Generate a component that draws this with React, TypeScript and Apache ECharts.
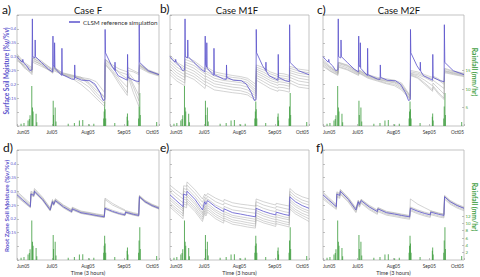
import React, { useEffect, useRef } from "react";
import * as echarts from "echarts";

// ---- axes ----
const MONTH_DAYS = [0, 30, 61, 92, 122];
const MONTH_LABELS = ["Jun05", "Jul05", "Aug05", "Sep05", "Oct05"];
const MOISTURE_LABELS = [0.15, 0.2, 0.25, 0.3, 0.35, 0.4];
const RAIN_LABELS_TOP = [5, 10, 15];
const RAIN_LABELS_BOTTOM = [2, 4, 6, 8, 10, 12];

// ---- rainfall forcing (mm/hr), day since 1 June 2005 ----
const RAIN_DAYS = [3.5, 6, 9.5, 10.6, 11.2, 12.7, 13.3, 13.8, 16.4, 17, 31.1, 31.4, 32.8, 33.5, 44, 49.3, 53.6, 56.5, 62, 66, 74.5, 74.9, 75.3, 75.7, 76.2, 84, 94.6, 94.9, 95.3, 104.5, 104.9, 105.5, 105.9, 120];
const RAIN_MM = [0.6, 0.8, 1.5, 1.9, 2.9, 10.8, 5.0, 3.9, 3.3, 1.0, 6.8, 3.0, 5.0, 1.2, 0.6, 0.8, 1.5, 1.6, 0.5, 0.6, 2.0, 3.9, 6.6, 4.5, 2.0, 0.8, 2.5, 3.4, 1.5, 2.0, 5.3, 8.9, 3.0, 1.1];

// ---- CLSM reference simulation, surface layer ----
const SURF_REF_DAYS = [0, 2, 4.5, 5, 5.5, 8.3, 11, 12.9, 13.2, 13.5, 15.4, 15.6, 15.9, 21, 27, 30.6, 30.9, 31.2, 32.1, 32.3, 32.6, 38.4, 38.6, 38.9, 47, 49.4, 49.6, 49.9, 55.6, 62.7, 67, 71.3, 74, 75.5, 75.7, 76, 81.3, 84, 84.2, 84.5, 87, 92.8, 94.8, 95, 95.3, 101.4, 104.8, 105, 105.4, 112.8, 122];
const SURF_REF = [0.3, 0.29, 0.28, 0.29, 0.278, 0.267, 0.25, 0.252, 0.436, 0.3, 0.295, 0.36, 0.3, 0.279, 0.255, 0.245, 0.374, 0.27, 0.262, 0.35, 0.258, 0.232, 0.33, 0.235, 0.219, 0.218, 0.27, 0.225, 0.215, 0.213, 0.201, 0.171, 0.142, 0.145, 0.398, 0.314, 0.267, 0.25, 0.28, 0.248, 0.231, 0.219, 0.215, 0.308, 0.225, 0.213, 0.21, 0.415, 0.279, 0.249, 0.235];

// ---- ensemble members, surface layer ----
const SURF_ENS_DAYS = [0, 6, 12.9, 13.3, 21, 30.8, 31.3, 39, 47, 55, 62, 68, 75.4, 75.8, 82, 88, 94.8, 95.2, 100, 104.8, 105.2, 113, 122];

const CASE_F_SURF = [
  [0.31, 0.28, 0.26, 0.3, 0.285, 0.25, 0.265, 0.24, 0.232, 0.225, 0.22, 0.21, 0.17, 0.29, 0.27, 0.255, 0.245, 0.26, 0.25, 0.24, 0.27, 0.25, 0.235],
  [0.29, 0.265, 0.245, 0.29, 0.27, 0.24, 0.255, 0.235, 0.228, 0.22, 0.215, 0.19, 0.15, 0.285, 0.26, 0.245, 0.235, 0.25, 0.245, 0.235, 0.265, 0.245, 0.232],
  [0.295, 0.26, 0.24, 0.295, 0.275, 0.25, 0.26, 0.238, 0.23, 0.222, 0.2, 0.17, 0.14, 0.28, 0.25, 0.22, 0.19, 0.24, 0.2, 0.16, 0.27, 0.248, 0.236],
  [0.305, 0.275, 0.255, 0.28, 0.265, 0.245, 0.25, 0.235, 0.225, 0.21, 0.19, 0.16, 0.13, 0.275, 0.24, 0.2, 0.16, 0.23, 0.17, 0.12, 0.26, 0.242, 0.23],
  [0.285, 0.27, 0.25, 0.295, 0.28, 0.255, 0.262, 0.242, 0.234, 0.226, 0.205, 0.18, 0.155, 0.29, 0.265, 0.24, 0.22, 0.245, 0.22, 0.2, 0.275, 0.252, 0.238],
  [0.3, 0.265, 0.235, 0.285, 0.272, 0.242, 0.258, 0.236, 0.222, 0.2, 0.175, 0.15, 0.12, 0.27, 0.245, 0.21, 0.17, 0.235, 0.19, 0.14, 0.268, 0.246, 0.234],
];

const CASE_M1F_SURF = [
  [0.305, 0.28, 0.262, 0.3, 0.285, 0.255, 0.265, 0.245, 0.238, 0.232, 0.228, 0.222, 0.2, 0.27, 0.26, 0.245, 0.235, 0.24, 0.238, 0.232, 0.265, 0.255, 0.25],
  [0.295, 0.272, 0.255, 0.29, 0.278, 0.248, 0.258, 0.238, 0.23, 0.225, 0.222, 0.215, 0.19, 0.262, 0.252, 0.238, 0.228, 0.232, 0.23, 0.226, 0.258, 0.248, 0.242],
  [0.285, 0.262, 0.245, 0.28, 0.268, 0.238, 0.248, 0.23, 0.222, 0.217, 0.214, 0.207, 0.18, 0.255, 0.244, 0.23, 0.22, 0.225, 0.222, 0.218, 0.25, 0.24, 0.235],
  [0.275, 0.252, 0.235, 0.272, 0.258, 0.228, 0.24, 0.222, 0.214, 0.21, 0.206, 0.2, 0.172, 0.248, 0.236, 0.222, 0.212, 0.218, 0.215, 0.21, 0.242, 0.232, 0.226],
  [0.265, 0.242, 0.225, 0.262, 0.248, 0.218, 0.23, 0.212, 0.205, 0.2, 0.197, 0.19, 0.165, 0.24, 0.228, 0.214, 0.205, 0.21, 0.207, 0.202, 0.234, 0.222, 0.216],
  [0.255, 0.232, 0.215, 0.252, 0.238, 0.208, 0.22, 0.202, 0.196, 0.19, 0.187, 0.18, 0.158, 0.232, 0.22, 0.206, 0.196, 0.2, 0.198, 0.193, 0.225, 0.212, 0.206],
  [0.245, 0.222, 0.205, 0.242, 0.228, 0.198, 0.21, 0.192, 0.186, 0.18, 0.177, 0.17, 0.15, 0.224, 0.21, 0.196, 0.186, 0.19, 0.188, 0.183, 0.215, 0.2, 0.195],
  [0.235, 0.212, 0.195, 0.232, 0.218, 0.185, 0.198, 0.18, 0.175, 0.17, 0.167, 0.162, 0.142, 0.215, 0.2, 0.185, 0.175, 0.18, 0.177, 0.172, 0.205, 0.19, 0.185],
];

const CASE_M2F_SURF = [
  [0.29, 0.265, 0.245, 0.28, 0.27, 0.245, 0.252, 0.235, 0.225, 0.22, 0.215, 0.205, 0.16, 0.245, 0.24, 0.23, 0.22, 0.225, 0.215, 0.2, 0.255, 0.245, 0.238],
  [0.28, 0.26, 0.24, 0.275, 0.265, 0.24, 0.248, 0.232, 0.222, 0.215, 0.21, 0.2, 0.155, 0.24, 0.235, 0.225, 0.21, 0.215, 0.2, 0.185, 0.25, 0.242, 0.235],
  [0.275, 0.255, 0.238, 0.27, 0.26, 0.238, 0.245, 0.228, 0.218, 0.21, 0.205, 0.19, 0.15, 0.238, 0.23, 0.215, 0.195, 0.205, 0.185, 0.165, 0.248, 0.24, 0.233],
  [0.27, 0.25, 0.235, 0.265, 0.255, 0.235, 0.242, 0.225, 0.215, 0.205, 0.2, 0.185, 0.148, 0.235, 0.225, 0.205, 0.18, 0.195, 0.17, 0.15, 0.245, 0.238, 0.23],
  [0.265, 0.248, 0.232, 0.262, 0.252, 0.232, 0.24, 0.222, 0.212, 0.202, 0.195, 0.18, 0.145, 0.232, 0.222, 0.2, 0.175, 0.19, 0.165, 0.145, 0.242, 0.235, 0.228],
  [0.285, 0.262, 0.242, 0.278, 0.268, 0.242, 0.25, 0.23, 0.22, 0.212, 0.208, 0.195, 0.158, 0.25, 0.245, 0.235, 0.225, 0.23, 0.22, 0.205, 0.258, 0.248, 0.24],
];

// ---- root zone: reference and ensembles share one time grid ----
const ROOT_DAYS = [0, 5, 11.5, 12, 14.5, 15, 22, 28.5, 30.5, 31.5, 33, 40, 47, 47.5, 55, 62, 68, 75, 75.6, 82, 88, 92.8, 93.2, 100, 104.6, 105.2, 110, 116, 122];
const ROOT_REF = [0.287, 0.268, 0.244, 0.29, 0.285, 0.3, 0.27, 0.232, 0.262, 0.252, 0.266, 0.243, 0.226, 0.236, 0.222, 0.217, 0.212, 0.207, 0.238, 0.227, 0.219, 0.214, 0.224, 0.216, 0.212, 0.28, 0.262, 0.248, 0.238];

const CASE_F_ROOT = [
  [0.295, 0.275, 0.25, 0.295, 0.29, 0.305, 0.275, 0.238, 0.266, 0.257, 0.27, 0.248, 0.231, 0.24, 0.226, 0.221, 0.216, 0.211, 0.242, 0.231, 0.223, 0.218, 0.227, 0.219, 0.215, 0.283, 0.265, 0.251, 0.241],
  [0.28, 0.262, 0.24, 0.285, 0.28, 0.295, 0.266, 0.228, 0.258, 0.248, 0.262, 0.239, 0.222, 0.232, 0.219, 0.214, 0.209, 0.204, 0.235, 0.224, 0.216, 0.211, 0.221, 0.213, 0.209, 0.277, 0.259, 0.245, 0.235],
  [0.3, 0.28, 0.255, 0.3, 0.294, 0.31, 0.278, 0.24, 0.27, 0.26, 0.273, 0.25, 0.233, 0.242, 0.228, 0.223, 0.218, 0.213, 0.275, 0.256, 0.242, 0.232, 0.23, 0.222, 0.218, 0.285, 0.267, 0.253, 0.243],
  [0.29, 0.27, 0.247, 0.292, 0.287, 0.302, 0.272, 0.235, 0.264, 0.254, 0.268, 0.245, 0.228, 0.238, 0.224, 0.219, 0.214, 0.209, 0.27, 0.25, 0.238, 0.229, 0.226, 0.218, 0.214, 0.282, 0.264, 0.25, 0.24],
  [0.283, 0.265, 0.242, 0.288, 0.282, 0.297, 0.268, 0.23, 0.26, 0.25, 0.264, 0.241, 0.224, 0.234, 0.22, 0.215, 0.21, 0.205, 0.236, 0.225, 0.217, 0.212, 0.222, 0.214, 0.21, 0.278, 0.26, 0.246, 0.236],
];

const CASE_M1F_ROOT = [
  [0.322, 0.305, 0.285, 0.32, 0.318, 0.334, 0.305, 0.272, 0.29, 0.282, 0.292, 0.275, 0.262, 0.27, 0.258, 0.253, 0.25, 0.246, 0.272, 0.262, 0.255, 0.25, 0.256, 0.25, 0.246, 0.31, 0.292, 0.28, 0.272],
  [0.31, 0.292, 0.272, 0.31, 0.306, 0.322, 0.292, 0.26, 0.28, 0.27, 0.282, 0.262, 0.25, 0.258, 0.246, 0.241, 0.237, 0.233, 0.262, 0.25, 0.243, 0.238, 0.245, 0.238, 0.234, 0.3, 0.282, 0.268, 0.26],
  [0.298, 0.28, 0.258, 0.3, 0.295, 0.31, 0.28, 0.245, 0.27, 0.26, 0.272, 0.25, 0.236, 0.245, 0.232, 0.228, 0.224, 0.22, 0.25, 0.238, 0.23, 0.226, 0.234, 0.226, 0.222, 0.29, 0.272, 0.258, 0.25],
  [0.276, 0.258, 0.236, 0.28, 0.275, 0.29, 0.26, 0.222, 0.252, 0.242, 0.256, 0.232, 0.216, 0.226, 0.212, 0.207, 0.203, 0.198, 0.23, 0.218, 0.21, 0.205, 0.215, 0.207, 0.203, 0.27, 0.252, 0.238, 0.228],
  [0.268, 0.25, 0.228, 0.272, 0.267, 0.282, 0.252, 0.215, 0.244, 0.234, 0.248, 0.225, 0.208, 0.218, 0.205, 0.2, 0.195, 0.19, 0.222, 0.21, 0.202, 0.197, 0.207, 0.2, 0.196, 0.262, 0.244, 0.23, 0.22],
  [0.258, 0.24, 0.218, 0.262, 0.257, 0.272, 0.242, 0.206, 0.236, 0.226, 0.24, 0.216, 0.2, 0.21, 0.196, 0.191, 0.186, 0.181, 0.212, 0.2, 0.193, 0.188, 0.198, 0.19, 0.186, 0.252, 0.234, 0.22, 0.21],
  [0.25, 0.232, 0.21, 0.254, 0.249, 0.264, 0.234, 0.198, 0.228, 0.218, 0.232, 0.208, 0.192, 0.202, 0.188, 0.183, 0.178, 0.173, 0.204, 0.192, 0.185, 0.18, 0.19, 0.182, 0.178, 0.244, 0.226, 0.212, 0.2],
  [0.242, 0.224, 0.2, 0.245, 0.24, 0.256, 0.226, 0.19, 0.22, 0.21, 0.224, 0.2, 0.184, 0.194, 0.18, 0.175, 0.17, 0.166, 0.196, 0.185, 0.178, 0.172, 0.182, 0.175, 0.17, 0.236, 0.218, 0.204, 0.19],
];

const CASE_M2F_ROOT = [
  [0.292, 0.272, 0.248, 0.294, 0.289, 0.304, 0.274, 0.236, 0.265, 0.256, 0.269, 0.246, 0.229, 0.239, 0.225, 0.22, 0.215, 0.21, 0.24, 0.229, 0.221, 0.216, 0.226, 0.218, 0.214, 0.282, 0.264, 0.25, 0.24],
  [0.278, 0.26, 0.238, 0.283, 0.278, 0.293, 0.264, 0.226, 0.256, 0.246, 0.26, 0.237, 0.22, 0.23, 0.217, 0.212, 0.207, 0.202, 0.233, 0.222, 0.214, 0.209, 0.219, 0.211, 0.207, 0.275, 0.257, 0.243, 0.233],
  [0.285, 0.266, 0.243, 0.288, 0.283, 0.298, 0.269, 0.231, 0.261, 0.251, 0.265, 0.242, 0.225, 0.235, 0.221, 0.216, 0.211, 0.206, 0.272, 0.253, 0.24, 0.23, 0.228, 0.22, 0.216, 0.28, 0.262, 0.248, 0.238],
  [0.272, 0.255, 0.234, 0.279, 0.274, 0.289, 0.26, 0.222, 0.252, 0.242, 0.256, 0.233, 0.216, 0.226, 0.213, 0.208, 0.203, 0.198, 0.229, 0.218, 0.21, 0.205, 0.215, 0.207, 0.203, 0.271, 0.253, 0.239, 0.229],
  [0.297, 0.277, 0.252, 0.298, 0.292, 0.307, 0.277, 0.239, 0.268, 0.258, 0.271, 0.249, 0.232, 0.241, 0.227, 0.222, 0.217, 0.212, 0.243, 0.232, 0.224, 0.219, 0.229, 0.221, 0.217, 0.285, 0.267, 0.253, 0.243],
];

const PANEL_LETTERS = ["a)", "b)", "c)", "d)", "e)", "f)"];
const CASE_TITLES = ["Case F", "Case M1F", "Case M2F"];
const LEGEND_NAME = "CLSM reference simulation";
const SURFACE_TITLE = "Surface Soil Moisture (%v/%v)";
const ROOT_TITLE = "Root Zone Soil Moisture (%v/%v)";
const RAIN_TITLE = "Rainfall (mm/hr)";

const FONT = "Lato, 'Open Sans', 'DejaVu Sans', sans-serif";
const BLUE = "#5b53cc";
const GREEN = "#44a044";
const GRAY = "#a8a8a8";

type Box = { left: number; top: number; width: number; height: number };
const PANELS: Box[] = [
  { left: 17, top: 15, width: 142, height: 111 },
  { left: 170, top: 15, width: 139, height: 111 },
  { left: 323, top: 15, width: 141, height: 111 },
  { left: 17, top: 150, width: 142, height: 110 },
  { left: 170, top: 150, width: 139, height: 110 },
  { left: 323, top: 150, width: 141, height: 110 },
];
const LETTER_POS = [
  [2, 3], [160, 2], [317, 3], [3, 141], [160, 141], [316, 141],
];
const TITLE_X = [88, 237, 399];

const pairs = (days: number[], vals: number[]) => days.map((d, k) => [d, vals[k]]);

function buildOption() {
  const grid: any[] = [];
  const xAxis: any[] = [];
  const yAxis: any[] = [];
  const series: any[] = [];

  const ensembles = [CASE_F_SURF, CASE_M1F_SURF, CASE_M2F_SURF, CASE_F_ROOT, CASE_M1F_ROOT, CASE_M2F_ROOT];

  PANELS.forEach((p, i) => {
    const bottomRow = i >= 3;
    const rightCol = i % 3 === 2;
    const leftCol = i % 3 === 0;
    grid.push({
      ...p,
      show: true,
      borderColor: "#b4b4b4",
      borderWidth: 0.8,
      backgroundColor: "transparent",
      containLabel: false,
      outerBoundsMode: "none",
    });
    xAxis.push({
      gridIndex: i,
      type: "value",
      min: 0,
      max: 122,
      axisLine: { show: false },
      splitLine: { show: false },
      axisTick: { show: true, inside: true, length: 2, customValues: MONTH_DAYS, lineStyle: { color: "#999", width: 0.6 } },
      axisLabel: {
        customValues: MONTH_DAYS,
        formatter: (v: number) => {
          const k = MONTH_DAYS.indexOf(Math.round(v));
          return k >= 0 ? MONTH_LABELS[k] : "";
        },
        fontSize: 4.7,
        fontFamily: FONT,
        color: "#333",
        margin: 3,
        alignMinLabel: "left",
        alignMaxLabel: "right",
      },
      name: bottomRow ? "Time (3 hours)" : "",
      nameLocation: "middle",
      nameGap: 9.5,
      nameTextStyle: { fontSize: 5.5, fontFamily: FONT, color: "#333" },
    });
    yAxis.push({
      gridIndex: i,
      type: "value",
      min: 0.05,
      max: 0.45,
      interval: 0.05,
      axisLine: { show: false },
      splitLine: { show: false },
      axisTick: { show: true, inside: true, length: 2, lineStyle: { color: "#999", width: 0.6 } },
      axisLabel: {
        show: leftCol,
        fontSize: 4,
        fontFamily: FONT,
        color: BLUE,
        margin: 1,
        formatter: (v: number) => {
          const r = Math.round(v * 100) / 100;
          return MOISTURE_LABELS.includes(r) ? String(r) : "";
        },
      },
    });
    const rainLabels = bottomRow ? RAIN_LABELS_BOTTOM : RAIN_LABELS_TOP;
    yAxis.push({
      gridIndex: i,
      type: "value",
      position: "right",
      min: 0,
      max: 30,
      interval: bottomRow ? 2 : 5,
      axisLine: { show: false },
      splitLine: { show: false },
      axisTick: { show: rightCol, inside: true, length: 2, customValues: rainLabels, lineStyle: { color: "#999", width: 0.6 } },
      axisLabel: {
        show: rightCol,
        fontSize: 4.4,
        fontFamily: FONT,
        color: GREEN,
        margin: 1.5,
        formatter: (v: number) => (rainLabels.includes(Math.round(v)) ? String(Math.round(v)) : ""),
      },
    });

    // rainfall bars
    series.push({
      type: "bar",
      xAxisIndex: i,
      yAxisIndex: 2 * i + 1,
      data: pairs(RAIN_DAYS, RAIN_MM),
      barWidth: 0.8,
      itemStyle: { color: GREEN, opacity: 0.85 },
      silent: true,
      z: 1,
    });

    // ensemble members
    const days = bottomRow ? ROOT_DAYS : SURF_ENS_DAYS;
    ensembles[i].forEach((m) => {
      series.push({
        type: "line",
        xAxisIndex: i,
        yAxisIndex: 2 * i,
        data: pairs(days, m),
        showSymbol: false,
        symbol: "none",
        lineStyle: { color: GRAY, width: 0.6, opacity: 0.85 },
        silent: true,
        z: 2,
      });
    });

    // reference simulation
    series.push({
      name: LEGEND_NAME,
      type: "line",
      xAxisIndex: i,
      yAxisIndex: 2 * i,
      data: bottomRow ? pairs(ROOT_DAYS, ROOT_REF) : pairs(SURF_REF_DAYS, SURF_REF),
      showSymbol: false,
      symbol: "none",
      lineStyle: { color: BLUE, width: 0.8 },
      itemStyle: { color: BLUE },
      silent: true,
      z: 3,
    });
  });

  const graphic: any[] = [];
  PANEL_LETTERS.forEach((t, i) => {
    graphic.push({
      type: "text",
      left: LETTER_POS[i][0],
      top: LETTER_POS[i][1],
      style: { text: t, fontSize: 12, fontFamily: FONT, fill: "#111" },
    });
  });
  CASE_TITLES.forEach((t, i) => {
    graphic.push({
      type: "text",
      x: TITLE_X[i],
      y: 10.5,
      style: { text: t, fontSize: 9.5, fontFamily: FONT, fill: "#111", align: "center", verticalAlign: "middle" },
    });
  });
  // vertical axis titles
  [
    { text: SURFACE_TITLE, x: 6, y: 71, rot: Math.PI / 2, color: BLUE, size: 6.5 },
    { text: ROOT_TITLE, x: 6, y: 206, rot: Math.PI / 2, color: BLUE, size: 6.3 },
    { text: RAIN_TITLE, x: 475, y: 72, rot: -Math.PI / 2, color: GREEN, size: 6.8 },
    { text: RAIN_TITLE, x: 475, y: 207, rot: -Math.PI / 2, color: GREEN, size: 6.8 },
  ].forEach((t) => {
    graphic.push({
      type: "text",
      x: t.x,
      y: t.y,
      rotation: t.rot,
      style: {
        text: t.text,
        fontSize: t.size,
        fontFamily: FONT,
        fontWeight: "bold",
        fill: t.color,
        align: "center",
        verticalAlign: "middle",
      },
    });
  });

  return {
    animation: false,
    backgroundColor: "#fff",
    grid,
    xAxis,
    yAxis,
    series,
    graphic,
    legend: {
      data: [LEGEND_NAME],
      left: 69,
      top: 19,
      padding: 0,
      icon: "rect",
      itemWidth: 11,
      itemHeight: 1.5,
      itemGap: 3,
      textStyle: { fontSize: 6.3, fontFamily: FONT, color: "#333", padding: [0, 0, 0, -2] },
    },
  };
}

export default function App() {
  const ref = useRef<HTMLDivElement>(null);
  useEffect(() => {
    if (!ref.current) return;
    const chart = echarts.init(ref.current, null, { renderer: "svg" });
    chart.setOption(buildOption() as any);
    return () => chart.dispose();
  }, []);
  return (
    <div
      ref={ref}
      style={{ position: "fixed", left: 0, top: 0, width: 480, height: 277, background: "#fff" }}
    />
  );
}
